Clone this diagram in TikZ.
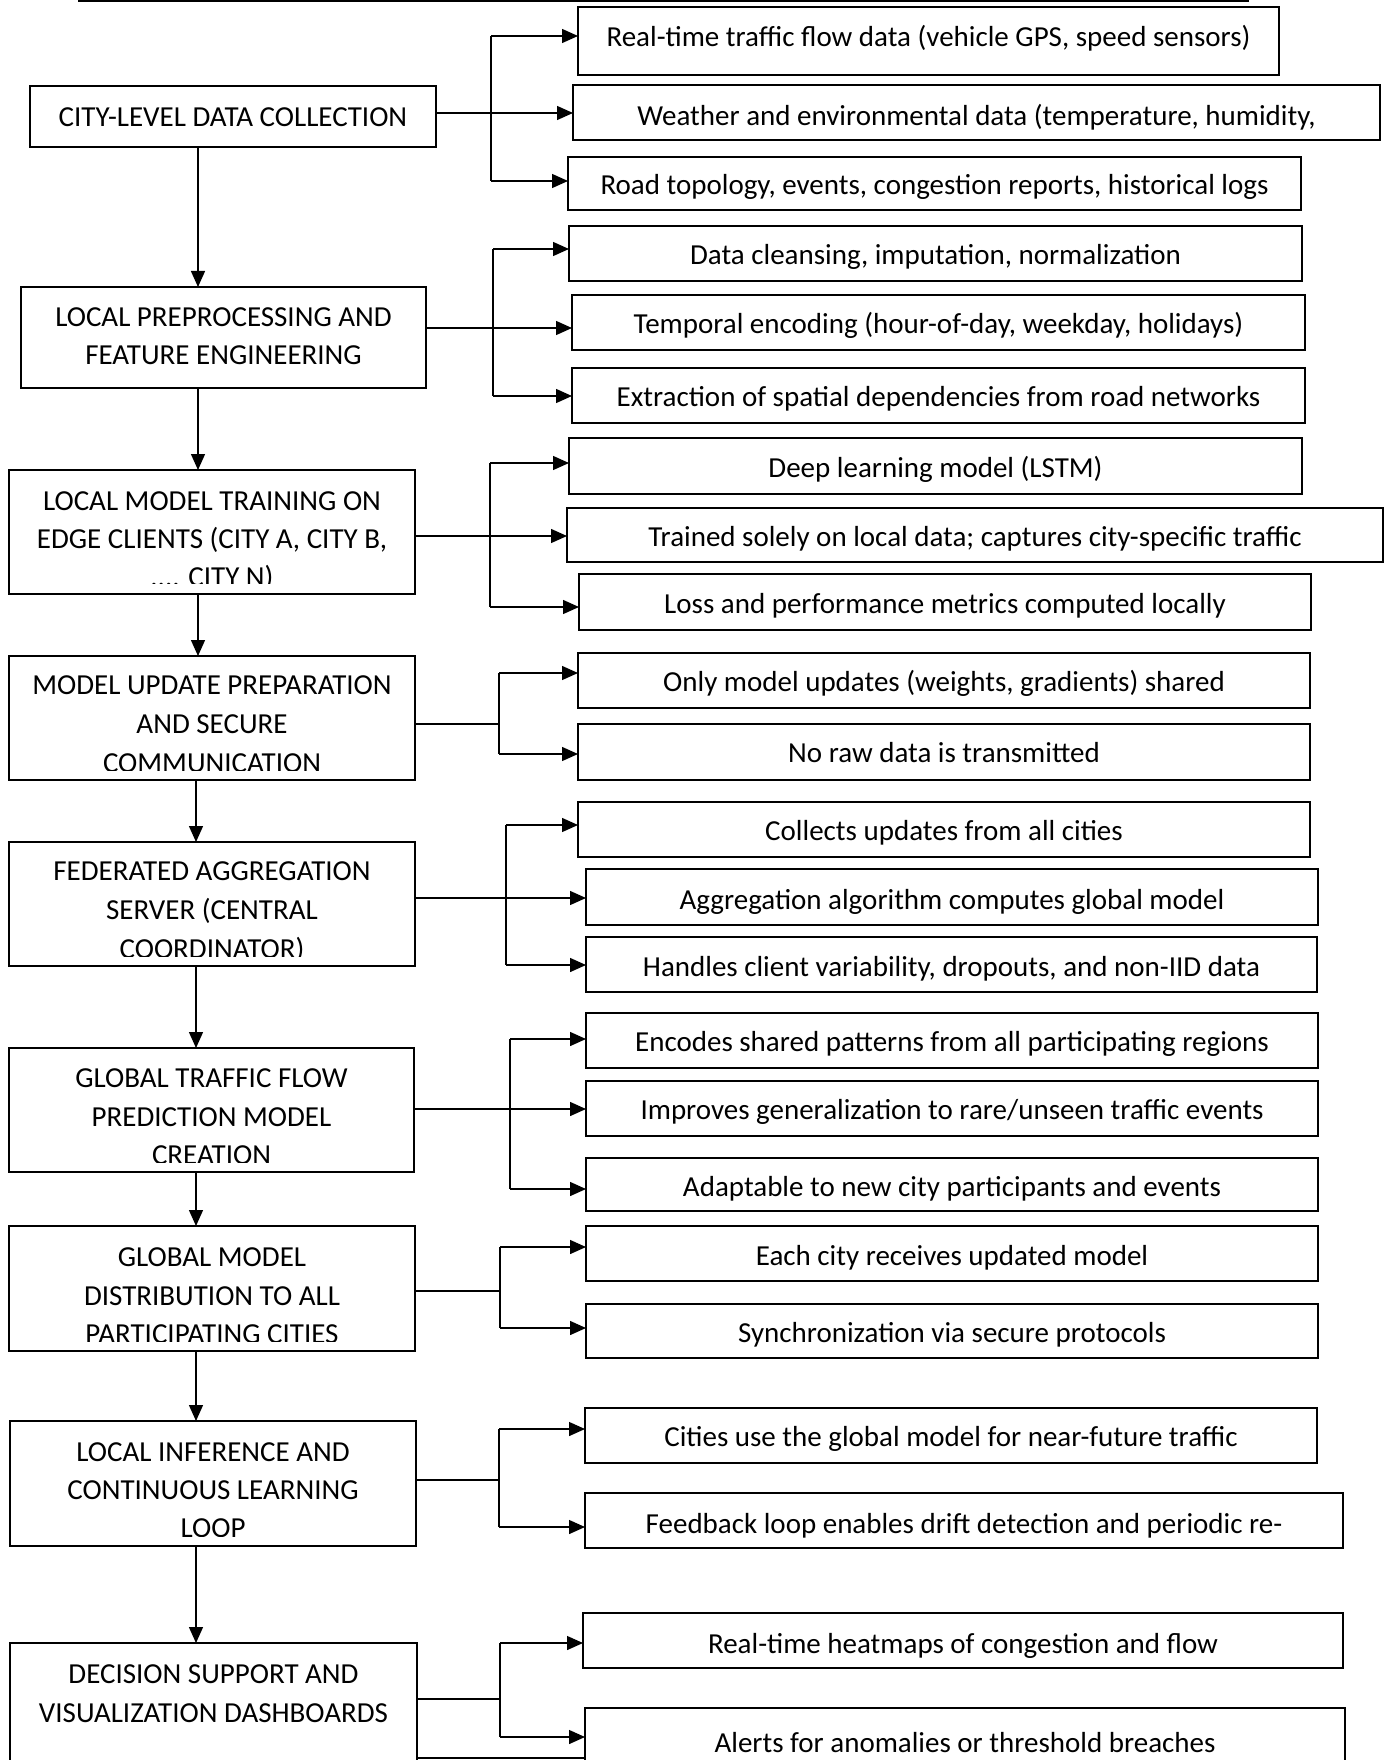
\documentclass[tikz,border=0pt]{standalone}
\usepackage{fontspec}
\setmainfont{Carlito}
\usetikzlibrary{arrows.meta}
\tikzset{
  frame/.style={draw=black, line width=2.6pt, inner sep=0pt, outer sep=0pt, rectangle},
  conn/.style={draw=black, line width=1.4pt},
  arr/.style={conn, -{Triangle[length=16pt,width=14pt]}},
  txt/.style={inner sep=0pt, outer sep=0pt, font=\fontsize{29}{35}\selectfont, anchor=base},
}
% box by corners: name, x1, y1, x2, y2
\newcommand\cbox[5]{\node[frame, minimum width={(#4)-(#2)}, minimum height={(#5)-(#3)}] (#1) at ({((#2)+(#4))/2},{((#3)+(#5))/2}) {};}
% text line: name, box, visual centre y, text
\newcommand\tl[4]{\node[txt] (#1) at (#2.center |- 0,{(#3)+9.5}) {#4};}
\begin{document}
\begin{tikzpicture}[x=1pt,y=-1pt]
\useasboundingbox (0,0) rectangle (1390,1760);
\fill[white] (0,0) rectangle (1390,1760);

\coordinate (tl0) at (78,1.5);
\coordinate (tl1) at (1249,1.5);
\draw[line width=2pt] (tl0) -- (tl1);

% ---------- left column ----------
\cbox{b1}{30}{86}{436}{147}
\cbox{b2}{21}{287}{426}{388}
\cbox{b3}{9}{470}{415}{594}
\cbox{b4}{9}{656}{415}{780}
\cbox{b5}{9}{842}{415}{966}
\cbox{b6}{9}{1048}{414}{1172}
\cbox{b7}{9}{1226}{415}{1351}
\cbox{b8}{10}{1421}{416}{1546}
\cbox{b9}{10}{1643}{417}{1775}

\tl{b1a}{b1}{117}{CITY-LEVEL DATA COLLECTION}
\tl{b2a}{b2}{317}{LOCAL PREPROCESSING AND}
\tl{b2b}{b2}{355}{FEATURE ENGINEERING}
\begin{scope}
\clip (9,470) rectangle (415,583);
\tl{b3a}{b3}{501}{LOCAL MODEL TRAINING ON}
\tl{b3b}{b3}{539}{EDGE CLIENTS (CITY A, CITY B,}
\tl{b3c}{b3}{577}{.... CITY N)}
\end{scope}
\begin{scope}
\clip (9,656) rectangle (415,770);
\tl{b4a}{b4}{685}{MODEL UPDATE PREPARATION}
\tl{b4b}{b4}{724}{AND SECURE}
\tl{b4c}{b4}{763}{COMMUNICATION}
\end{scope}
\begin{scope}
\clip (9,842) rectangle (415,956);
\tl{b5a}{b5}{871}{FEDERATED AGGREGATION}
\tl{b5b}{b5}{910}{SERVER (CENTRAL}
\tl{b5c}{b5}{949}{COORDINATOR)}
\end{scope}
\begin{scope}
\clip (9,1048) rectangle (414,1162);
\tl{b6a}{b6}{1078}{GLOBAL TRAFFIC FLOW}
\tl{b6b}{b6}{1117}{PREDICTION MODEL}
\tl{b6c}{b6}{1155}{CREATION}
\end{scope}
\begin{scope}
\clip (9,1226) rectangle (415,1341);
\tl{b7a}{b7}{1257}{GLOBAL MODEL}
\tl{b7b}{b7}{1296}{DISTRIBUTION TO ALL}
\tl{b7c}{b7}{1334}{PARTICIPATING CITIES}
\end{scope}
\begin{scope}
\clip (10,1421) rectangle (416,1536);
\tl{b8a}{b8}{1452}{LOCAL INFERENCE AND}
\tl{b8b}{b8}{1490}{CONTINUOUS LEARNING}
\tl{b8c}{b8}{1528}{LOOP}
\end{scope}
\tl{b9a}{b9}{1674}{DECISION SUPPORT AND}
\tl{b9b}{b9}{1713}{VISUALIZATION DASHBOARDS}

% vertical arrows
\coordinate (vA) at (198,0);
\coordinate (vB) at (196,0);
\draw[arr] (b1.south -| vA) -- (b2.north -| vA);
\draw[arr] (b2.south -| vA) -- (b3.north -| vA);
\draw[arr] (b3.south -| vA) -- (b4.north -| vA);
\draw[arr] (b4.south -| vB) -- (b5.north -| vB);
\draw[arr] (b5.south -| vB) -- (b6.north -| vB);
\draw[arr] (b6.south -| vB) -- (b7.north -| vB);
\draw[arr] (b7.south -| vB) -- (b8.north -| vB);
\draw[arr] (b8.south -| vB) -- (b9.north -| vB);

% ---------- right column ----------
\cbox{r1a}{578}{7}{1279}{75}
\cbox{r1b}{573}{85}{1380}{140}
\cbox{r1c}{568}{157}{1301}{210}
\cbox{r2a}{569}{226}{1302}{281}
\cbox{r2b}{572}{295}{1305}{350}
\cbox{r2c}{572}{368}{1305}{423}
\cbox{r3a}{569}{438}{1302}{494}
\cbox{r3b}{567}{508}{1383}{562}
\cbox{r3c}{579}{574}{1311}{630}
\cbox{r4a}{578}{653}{1310}{708}
\cbox{r4b}{578}{724}{1310}{780}
\cbox{r5a}{578}{802}{1310}{857}
\cbox{r5b}{586}{869}{1318}{925}
\cbox{r5c}{586}{937}{1317}{992}
\cbox{r6a}{586}{1013}{1318}{1068}
\cbox{r6b}{586}{1081}{1318}{1136}
\cbox{r6c}{586}{1158}{1318}{1211}
\cbox{r7a}{586}{1226}{1318}{1281}
\cbox{r7b}{586}{1304}{1318}{1358}
\cbox{r8a}{585}{1408}{1317}{1463}
\cbox{r8b}{585}{1493}{1343}{1548}
\cbox{r9a}{583}{1613}{1343}{1668}
\cbox{r9b}{585}{1708}{1345}{1775}

\tl{t1a}{r1a}{37}{Real-time traffic flow data (vehicle GPS, speed sensors)}
\tl{t1b}{r1b}{116}{Weather and environmental data (temperature, humidity,}
\tl{t1c}{r1c}{185}{Road topology, events, congestion reports, historical logs}
\tl{t2a}{r2a}{255}{Data cleansing, imputation, normalization}
\tl{t2b}{r2b}{324}{Temporal encoding (hour-of-day, weekday, holidays)}
\tl{t2c}{r2c}{397}{Extraction of spatial dependencies from road networks}
\tl{t3a}{r3a}{468}{Deep learning model (LSTM)}
\tl{t3b}{r3b}{537}{Trained solely on local data; captures city-specific traffic}
\tl{t3c}{r3c}{604}{Loss and performance metrics computed locally}
\tl{t4a}{r4a}{682}{Only model updates (weights, gradients) shared}
\tl{t4b}{r4b}{753}{No raw data is transmitted}
\tl{t5a}{r5a}{831}{Collects updates from all cities}
\tl{t5b}{r5b}{900}{Aggregation algorithm computes global model}
\tl{t5c}{r5c}{967}{Handles client variability, dropouts, and non-IID data}
\tl{t6a}{r6a}{1042}{Encodes shared patterns from all participating regions}
\tl{t6b}{r6b}{1110}{Improves generalization to rare/unseen traffic events}
\tl{t6c}{r6c}{1187}{Adaptable to new city participants and events}
\tl{t7a}{r7a}{1256}{Each city receives updated model}
\tl{t7b}{r7b}{1333}{Synchronization via secure protocols}
\tl{t8a}{r8a}{1437}{Cities use the global model for near-future traffic}
\tl{t8b}{r8b}{1524}{Feedback loop enables drift detection and periodic re-}
\tl{t9a}{r9a}{1644}{Real-time heatmaps of congestion and flow}
\tl{t9b}{r9b}{1743}{Alerts for anomalies or threshold breaches}

% ---------- bracket connectors ----------
% group 1
\coordinate (g1t) at (491,36);
\coordinate (g1m) at (491,113);
\coordinate (g1b) at (491,181);
\draw[conn] (g1t) -- (g1b);
\draw[arr] (b1.east |- g1m) -- (r1b.west |- g1m);
\draw[arr] (g1t) -- (r1a.west |- g1t);
\draw[arr] (g1b) -- (r1c.west |- g1b);
% group 2
\coordinate (g2t) at (493,249);
\coordinate (g2m) at (493,328);
\coordinate (g2b) at (493,396);
\draw[conn] (g2t) -- (g2b);
\draw[arr] (b2.east |- g2m) -- (r2b.west |- g2m);
\draw[arr] (g2t) -- (r2a.west |- g2t);
\draw[arr] (g2b) -- (r2c.west |- g2b);
% group 3
\coordinate (g3t) at (490,463);
\coordinate (g3m) at (490,536);
\coordinate (g3b) at (490,607);
\draw[conn] (g3t) -- (g3b);
\draw[arr] (b3.east |- g3m) -- (r3b.west |- g3m);
\draw[arr] (g3t) -- (r3a.west |- g3t);
\draw[arr] (g3b) -- (r3c.west |- g3b);
% group 4
\coordinate (g4t) at (499,673);
\coordinate (g4m) at (499,724);
\coordinate (g4b) at (499,754);
\draw[conn] (g4t) -- (g4b);
\draw[conn] (b4.east |- g4m) -- (g4m);
\draw[arr] (g4t) -- (r4a.west |- g4t);
\draw[arr] (g4b) -- (r4b.west |- g4b);
% group 5
\coordinate (g5t) at (506,825);
\coordinate (g5m) at (506,898);
\coordinate (g5b) at (506,965);
\draw[conn] (g5t) -- (g5b);
\draw[arr] (b5.east |- g5m) -- (r5b.west |- g5m);
\draw[arr] (g5t) -- (r5a.west |- g5t);
\draw[arr] (g5b) -- (r5c.west |- g5b);
% group 6
\coordinate (g6t) at (510,1039);
\coordinate (g6m) at (510,1109);
\coordinate (g6b) at (510,1189);
\draw[conn] (g6t) -- (g6b);
\draw[arr] (b6.east |- g6m) -- (r6b.west |- g6m);
\draw[arr] (g6t) -- (r6a.west |- g6t);
\draw[arr] (g6b) -- (r6c.west |- g6b);
% group 7
\coordinate (g7t) at (500,1247);
\coordinate (g7m) at (500,1291);
\coordinate (g7b) at (500,1328);
\draw[conn] (g7t) -- (g7b);
\draw[conn] (b7.east |- g7m) -- (g7m);
\draw[arr] (g7t) -- (r7a.west |- g7t);
\draw[arr] (g7b) -- (r7b.west |- g7b);
% group 8
\coordinate (g8t) at (499,1429);
\coordinate (g8m) at (499,1480);
\coordinate (g8b) at (499,1527);
\draw[conn] (g8t) -- (g8b);
\draw[conn] (b8.east |- g8m) -- (g8m);
\draw[arr] (g8t) -- (r8a.west |- g8t);
\draw[arr] (g8b) -- (r8b.west |- g8b);
% group 9
\coordinate (g9t) at (500,1643);
\coordinate (g9m) at (500,1699);
\coordinate (g9b) at (500,1737);
\draw[conn] (g9t) -- (g9b);
\draw[conn] (b9.east |- g9m) -- (g9m);
\draw[arr] (g9t) -- (r9a.west |- g9t);
\draw[arr] (g9b) -- (r9b.west |- g9b);
% bottom edge joining last boxes
\coordinate (bl) at (0,1758);
\draw[line width=2.6pt] (b9.east |- bl) -- (r9b.west |- bl);
\end{tikzpicture}
\end{document}
